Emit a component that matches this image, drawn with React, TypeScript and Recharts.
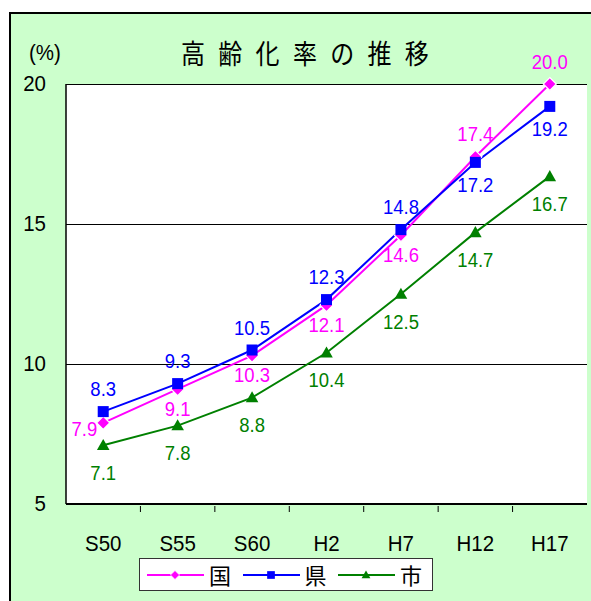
import React from 'react';
import { LineChart, Line, XAxis, YAxis, CartesianGrid, LabelList } from 'recharts';

const categories = ['S50', 'S55', 'S60', 'H2', 'H7', 'H12', 'H17'];
const kuni = [7.9, 9.1, 10.3, 12.1, 14.6, 17.4, 20.0];
const ken = [8.3, 9.3, 10.5, 12.3, 14.8, 17.2, 19.2];
const shi = [7.1, 7.8, 8.8, 10.4, 12.5, 14.7, 16.7];
const yTicks = [5, 10, 15, 20];

// label placement per point (layout hints)
const kuniPlace = ['left', 'below', 'below', 'below', 'below', 'above', 'above'];
const kenPlace = ['above', 'above', 'above', 'above', 'above', 'below', 'below'];
const shiPlace = ['below', 'below', 'below', 'below', 'below', 'below', 'below'];

const series = [
  { key: 'kuni', name: '国', color: '#FF00FF', shape: 'diamond', place: kuniPlace, below: 20 },
  { key: 'ken', name: '県', color: '#0000FF', shape: 'square', place: kenPlace, below: 23 },
  { key: 'shi', name: '市', color: '#008000', shape: 'triangle', place: shiPlace, below: 28 },
];

const data = categories.map((c, i) => ({ cat: c, kuni: kuni[i], ken: ken[i], shi: shi[i] }));

const FONT = '"Liberation Sans", Arial, sans-serif';
const CJK = '"Noto Sans CJK JP", sans-serif';

const CHART_W = 620;
const PLOT_L = 66;
const PLOT_R = 587;
const BAND = (PLOT_R - PLOT_L) / categories.length;

function Marker({ cx, cy, shape, color, size = 1 }: any) {
  if (cx == null || cy == null) return null;
  if (shape === 'diamond') {
    const r = 6.5 * size;
    return <path d={`M${cx},${cy - r}L${cx + r},${cy}L${cx},${cy + r}L${cx - r},${cy}Z`} fill={color} stroke="#fff" strokeWidth={1.2 * size} />;
  }
  if (shape === 'square') {
    const r = 5.5 * size;
    return <rect x={cx - r} y={cy - r} width={2 * r} height={2 * r} fill={color} />;
  }
  const r = 6.3 * size;
  return <path d={`M${cx},${cy - r}L${cx + r},${cy + r * 0.75}L${cx - r},${cy + r * 0.75}Z`} fill={color} />;
}

const makeLabel = (s: any) => (props: any) => {
  const { x, y, value, index } = props;
  const p = s.place[index];
  let lx = x, ly = y;
  let anchor: any = 'middle';
  if (p === 'left') { lx = x - 6; anchor = 'end'; ly = y + 7; }
  else if (p === 'above') { ly = y - 22; }
  else { ly = y + s.below; }
  return (
    <text transform={`translate(${lx},${ly}) scale(1,1.06)`} x={0} y={0} textAnchor={anchor} dominantBaseline="central" fill={s.color} fontSize={18.5} fontFamily={FONT}>
      {Number(value).toFixed(1)}
    </text>
  );
};

function XTick({ x, y, payload, index }: any) {
  return (
    <g>
      {index < categories.length - 1 && (
        <line x1={x + BAND / 2} x2={x + BAND / 2} y1={y} y2={y - 6} stroke="#000" strokeWidth={1} />
      )}
      <text transform={`translate(${x},${y + 31}) scale(1,1.12)`} x={0} y={0} textAnchor="middle" dominantBaseline="central" fontSize={20.5} fontFamily={FONT} fill="#000">
        {payload.value}
      </text>
    </g>
  );
}

function YTick({ x, y, payload }: any) {
  return (
    <text transform={`translate(${x - 18},${y}) scale(1,1.1)`} x={0} y={0} textAnchor="end" dominantBaseline="central" fontSize={20.5} fontFamily={FONT} fill="#000">
      {payload.value}
    </text>
  );
}

export default function App() {
  return (
    <div style={{ position: 'absolute', left: 0, top: 0, width: 591, height: 601, overflow: 'hidden', background: '#fff' }}>
      <div style={{ position: 'absolute', left: 9, top: 12, width: 620, height: 620, border: '2px solid #000', background: '#CCFFCC' }} />
      <div style={{ position: 'absolute', left: 0, top: 0 }}>
        <LineChart width={CHART_W} height={601} data={data} margin={{ top: 84, right: CHART_W - PLOT_R, left: 16, bottom: 67 }}>
          <CartesianGrid vertical={false} stroke="#000" strokeWidth={1} fill="#fff" fillOpacity={1} shapeRendering="crispEdges" />
          <XAxis
            dataKey="cat"
            height={30}
            padding={{ left: BAND / 2, right: BAND / 2 }}
            axisLine={{ stroke: '#000', strokeWidth: 2 }}
            tickLine={false}
            tick={<XTick />}
            interval={0}
          />
          <YAxis
            width={50}
            domain={[5, 20]}
            ticks={yTicks}
            axisLine={{ stroke: '#000', strokeWidth: 1.5 }}
            tickLine={false}
            tickSize={0}
            tick={<YTick />}
          />
          <YAxis yAxisId="r" orientation="right" width={0} domain={[5, 20]} axisLine={{ stroke: '#000' }} tick={false} tickLine={false} />
          {series.map((s) => (
            <Line
              key={s.key}
              dataKey={s.key}
              name={s.name}
              stroke={s.color}
              strokeWidth={2}
              isAnimationActive={false}
              dot={(p: any) => <Marker key={p.index} cx={p.cx} cy={p.cy} shape={s.shape} color={s.color} />}
              activeDot={false}
            >
              <LabelList dataKey={s.key} content={makeLabel(s)} />
            </Line>
          ))}
        </LineChart>
      </div>
      <div style={{ position: 'absolute', left: 29, top: 40, fontFamily: FONT, fontSize: 20.5, lineHeight: '24px', color: '#000', transform: 'scaleY(1.1)' }}>(%)</div>
      <div style={{ position: 'absolute', left: 181, top: 35, fontFamily: CJK, fontSize: 24, letterSpacing: 13.3, color: '#000', lineHeight: '36px', whiteSpace: 'nowrap', transform: 'scaleY(1.12)', transformOrigin: 'left center' }}>
        高齢化率の推移
      </div>
      <div style={{ position: 'absolute', left: 139, top: 558, width: 292, height: 31, border: '1px solid #333', background: '#fff' }}>
        {series.map((s, i) => (
          <div key={s.key} style={{ position: 'absolute', left: 7 + i * 95.5, top: 0, height: 31, display: 'flex', alignItems: 'center' }}>
            <svg width={57} height={20}>
              <line x1={0} x2={57} y1={10} y2={10} stroke={s.color} strokeWidth={2} />
              <Marker cx={28} cy={10} shape={s.shape} color={s.color} size={0.7} />
            </svg>
            <span style={{ fontFamily: CJK, fontSize: 22, marginLeft: 5, color: '#000', lineHeight: '31px' }}>{s.name}</span>
          </div>
        ))}
      </div>
    </div>
  );
}
